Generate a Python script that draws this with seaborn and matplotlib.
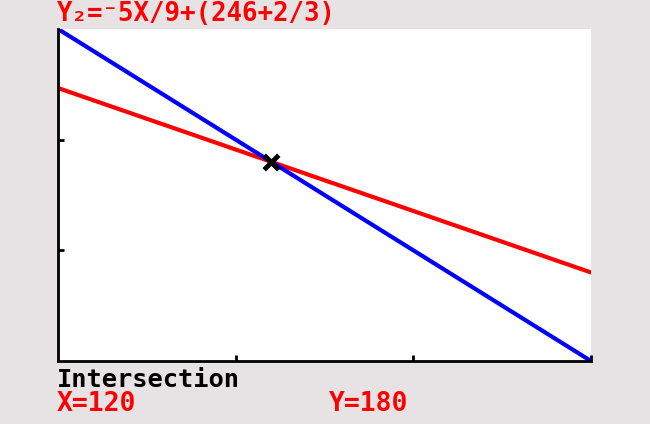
import pandas as pd
import seaborn as sns
import matplotlib.pyplot as plt

# Window: Xmin=0 Xmax=300 Xscl=100, Ymin=0 Ymax=300 Yscl=100
x_vals = [0, 300]
y1_vals = [300, 0]           # blue line
y2_vals = [246.667, 80]      # red line, Y2 = -5X/9 + (246+2/3)
x_ticks = [100, 200, 300]
y_ticks = [100, 200]
ix, iy = 120, 180            # intersection

header = "Y\u2082=\u207b5X/9+(246+2/3)"
label = "Intersection"
x_text = "X=120"
y_text = "Y=180"

sns.set_style("white")
plt.rcParams['font.family'] = ['DejaVu Sans Mono', 'DejaVu Sans']

bg = '#e7e3e5'
fig = plt.figure(figsize=(6.5, 4.24), dpi=100, facecolor=bg)
ax = fig.add_axes([58 / 650, 1 - 361 / 424, 533 / 650, 332 / 424])
ax.set_facecolor('white')

df = pd.DataFrame({'x': x_vals, 'y1': y1_vals, 'y2': y2_vals})
sns.lineplot(data=df, x='x', y='y2', color='#ff0000', linewidth=3, ax=ax)
sns.lineplot(data=df, x='x', y='y1', color='#0000ff', linewidth=3, ax=ax)
ax.scatter([ix], [iy], marker='x', s=110, color='black', linewidths=3.5, zorder=5)

ax.set_xlim(0, 300)
ax.set_ylim(0, 300)
ax.set_xticks(x_ticks)
ax.set_yticks(y_ticks)
ax.set_xticklabels([])
ax.set_yticklabels([])
ax.tick_params(direction='in', length=4, width=2, colors='black',
               bottom=True, left=True)
ax.set_xlabel('')
ax.set_ylabel('')
for side in ['top', 'right']:
    ax.spines[side].set_visible(False)
for side in ['left', 'bottom']:
    ax.spines[side].set_color('black')
    ax.spines[side].set_linewidth(2)

fig.text(57 / 650, 1 - 14 / 424, header, color='#ff0000', fontsize=18.5,
         fontweight='bold', va='center', ha='left')
fig.text(57 / 650, 1 - 380 / 424, label, color='black', fontsize=18.3,
         fontweight='bold', va='center', ha='left')
fig.text(57 / 650, 1 - 404 / 424, x_text, color='#ff0000', fontsize=19,
         fontweight='bold', va='center', ha='left')
fig.text(329 / 650, 1 - 404 / 424, y_text, color='#ff0000', fontsize=19,
         fontweight='bold', va='center', ha='left')

fig.savefig('out.png', dpi=100, facecolor=bg)
